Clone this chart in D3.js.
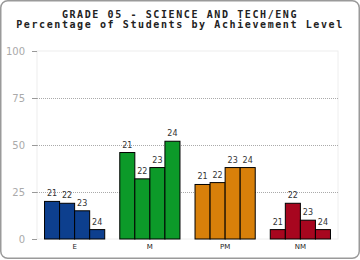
<!DOCTYPE html>
<html>
<head>
<meta charset="utf-8">
<script src="https://cdn.jsdelivr.net/npm/d3@7"></script>
<style>
  body { margin: 0; background: #fff; }
  svg { display: block; }
</style>
</head>
<body>
<div id="chart"></div>
<script>
// chart data
const levels = ["E", "M", "PM", "NM"];
const years = ["21", "22", "23", "24"];
const eValues = [20, 19, 15, 5];
const mValues = [46, 32, 38, 52];
const pmValues = [29, 30, 38, 38];
const nmValues = [5, 19, 10, 5];
const yTicks = [0, 25, 50, 75, 100];
const colors = ["#0d3f8e", "#0c9a29", "#d8800a", "#a7061f"];

const allValues = [eValues, mValues, pmValues, nmValues];

const width = 360, height = 260;
const margin = { top: 51, right: 22, bottom: 21, left: 37 };

const svg = d3.select("#chart")
  .append("svg")
  .attr("width", width)
  .attr("height", height);

// outer rounded frame
svg.append("rect")
  .attr("x", 0.75).attr("y", 0.75)
  .attr("width", width - 1.5).attr("height", height - 2.5)
  .attr("rx", 7)
  .attr("fill", "#fff")
  .attr("stroke", "#9a9a9a")
  .attr("stroke-width", 1.5);

// titles
const titles = ["GRADE 05 - SCIENCE AND TECH/ENG", "Percentage of Students by Achievement Level"];
svg.selectAll("text.title")
  .data(titles)
  .join("text")
  .attr("class", "title")
  .attr("x", width / 2)
  .attr("y", (d, i) => 17.5 + i * 10)
  .attr("text-anchor", "middle")
  .attr("font-family", "DejaVu Sans Mono")
  .attr("font-weight", "bold")
  .attr("font-size", 10)
  .attr("letter-spacing", 1.6)
  .attr("fill", "#222")
  .text(d => d);

const x = d3.scaleBand()
  .domain(levels)
  .range([margin.left, width - margin.right])
  .paddingInner(0.2)
  .paddingOuter(0.1);

const xInner = d3.scaleBand()
  .domain(years)
  .range([0, x.bandwidth()]);

const y = d3.scaleLinear()
  .domain([0, 100])
  .range([height - margin.bottom, margin.top]);

// plot box
svg.append("rect")
  .attr("x", margin.left).attr("y", margin.top)
  .attr("width", width - margin.right - margin.left)
  .attr("height", y(0) - margin.top)
  .attr("fill", "none")
  .attr("stroke", "#eee");

// grid lines
svg.selectAll("line.grid")
  .data([25, 50, 75])
  .join("line")
  .attr("class", "grid")
  .attr("x1", margin.left).attr("x2", width - margin.right)
  .attr("y1", d => Math.round(y(d)) + 0.5).attr("y2", d => Math.round(y(d)) + 0.5)
  .attr("stroke", "#aaa")
  .attr("stroke-dasharray", "1,1");

// y axis
const yAxis = svg.append("g")
  .attr("transform", `translate(${margin.left},0)`)
  .call(d3.axisLeft(y).tickValues(yTicks).tickSize(5).tickPadding(7));
yAxis.select(".domain").remove();
yAxis.selectAll(".tick line").attr("stroke", "#999");
yAxis.selectAll(".tick text")
  .attr("font-family", "DejaVu Sans")
  .attr("font-size", 10)
  .attr("fill", "#aaa");

// x axis labels
const xAxis = svg.append("g")
  .attr("transform", `translate(0,${y(0)})`)
  .call(d3.axisBottom(x).tickSize(0).tickPadding(5));
xAxis.select(".domain").remove();
xAxis.selectAll(".tick text")
  .attr("font-family", "DejaVu Sans")
  .attr("font-size", 7)
  .attr("fill", "#222");

// bars
const groups = svg.selectAll("g.level")
  .data(levels)
  .join("g")
  .attr("class", "level")
  .attr("transform", d => `translate(${x(d)},0)`);

groups.each(function (lvl, li) {
  const g = d3.select(this);
  const vals = allValues[li].map((v, i) => ({ year: years[i], value: v }));
  g.selectAll("rect")
    .data(vals)
    .join("rect")
    .attr("x", d => xInner(d.year))
    .attr("y", d => y(d.value))
    .attr("width", xInner.bandwidth())
    .attr("height", d => y(0) - y(d.value))
    .attr("fill", colors[li])
    .attr("stroke", "#000")
    .attr("stroke-width", 1);
  g.selectAll("text")
    .data(vals)
    .join("text")
    .attr("x", d => xInner(d.year) + xInner.bandwidth() / 2)
    .attr("y", d => y(d.value) - 5)
    .attr("text-anchor", "middle")
    .attr("font-family", "DejaVu Sans")
    .attr("font-size", 8)
    .attr("fill", "#333")
    .text(d => d.year);
});
</script>
</body>
</html>
